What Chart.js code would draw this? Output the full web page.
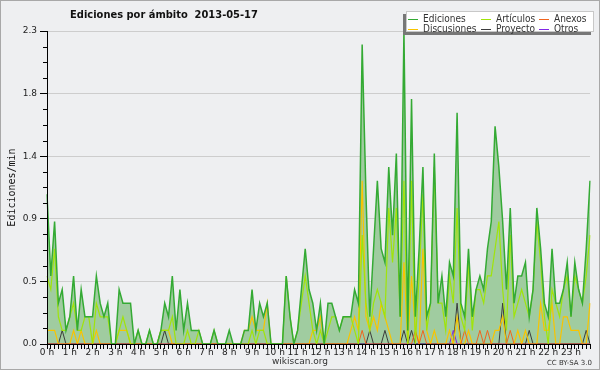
<!DOCTYPE html>
<html>
<head>
<meta charset="utf-8">
<script src="https://cdn.jsdelivr.net/npm/chart.js"></script>
<style>
html, body { margin: 0; padding: 0; background: #eeeff1; }
canvas { display: block; }
</style>
</head>
<body>
<canvas id="myChart" width="600" height="370"></canvas>
<script>
// one value every 10 minutes, 6 per hour, 144 per day (ediciones / min)
var hourLabels = ['0 h','1 h','2 h','3 h','4 h','5 h','6 h','7 h','8 h','9 h','10 h','11 h',
                  '12 h','13 h','14 h','15 h','16 h','17 h','18 h','19 h','20 h','21 h','22 h','23 h'];
var yTicks = [0, 0.46, 0.92, 1.38, 1.84, 2.3];

var ediciones = [
  1.1,0.5,0.9,0.3,0.4,0.1,  0.2,0.5,0.1,0.4,0.2,0.2,  0.2,0.5,0.3,0.2,0.3,0,  0,0.4,0.3,0.3,0.3,0,
  0.1,0,0,0.1,0,0,  0.1,0.3,0.2,0.5,0.1,0.4,  0.1,0.3,0.1,0.1,0.1,0,  0,0,0.1,0,0,0,
  0.1,0,0,0,0.1,0.1,  0.4,0.1,0.3,0.2,0.3,0,  0,0,0,0.5,0.2,0,  0.1,0.4,0.7,0.4,0.3,0.1,
  0.3,0,0.3,0.3,0.2,0.1,  0.2,0.2,0.2,0.4,0.3,2.2,  1.1,0.2,0.7,1.2,0.7,0.6,  1.3,0.8,1.4,0.2,2.3,0.1,
  1.8,0.2,0.7,1.3,0.2,0.3,  1.4,0.3,0.5,0.2,0.6,0.5,  1.7,0.3,0.2,0.7,0.2,0.4,  0.5,0.4,0.7,0.9,1.6,1.3,
  0.9,0.4,1.0,0.3,0.5,0.5,  0.6,0.2,0.4,1.0,0.7,0.3,  0.2,0.7,0.3,0.3,0.4,0.6,  0.2,0.6,0.4,0.3,0.7,1.2
];
var articulos = [
  0.5,0.4,0.7,0.2,0.1,0.1,  0.2,0.3,0.1,0.1,0.2,0.2,  0,0.3,0.2,0.2,0.2,0,  0,0.1,0.2,0.1,0,0,
  0.1,0,0,0.1,0,0,  0.1,0.1,0.1,0.2,0,0,  0,0.1,0,0,0.1,0,  0,0,0.1,0,0,0,
  0,0,0,0,0,0,  0.1,0,0.1,0.1,0,0,  0,0,0,0.5,0.2,0,  0.1,0.3,0.5,0.3,0.1,0,
  0.1,0,0.1,0.2,0.2,0.1,  0.2,0.2,0.2,0.1,0,0.8,  0.3,0.1,0.3,0.4,0.3,0.2,  1.0,0.6,1.0,0.2,1.2,0,
  1.2,0,0.5,1.1,0.1,0.3,  1.3,0.3,0.3,0.1,0.5,0.3,  1.0,0.2,0.1,0.6,0.1,0.4,  0.4,0.3,0.5,0.5,0.7,0.9,
  0.4,0.1,0.8,0.2,0.3,0.4,  0.3,0.2,0.4,0.9,0.6,0.2,  0,0.4,0.3,0.2,0.4,0.5,  0.2,0.5,0.4,0.3,0.5,0.8
];
var anexos = [
  0,0,0,0,0,0,  0,0,0,0,0,0,  0,0,0,0,0,0,  0,0,0,0,0,0,
  0,0,0,0,0,0,  0,0,0,0,0,0,  0,0,0,0,0,0,  0,0,0,0,0,0,
  0,0,0,0,0,0,  0,0,0,0,0,0,  0,0,0,0,0,0,  0,0,0,0,0,0,
  0,0,0,0,0,0,  0,0,0,0,0,0.1,  0,0,0,0,0,0,  0,0,0,0,0,0,
  0,0.1,0,0.1,0,0,  0,0,0,0,0,0,  0,0,0.1,0,0,0,  0.1,0,0.1,0,0,0,
  0,0,0.1,0,0,0,  0,0,0,0,0,0,  0,0,0,0,0,0,  0,0,0,0,0,0
];
var discusiones = [
  0.1,0.1,0.1,0,0,0,  0,0.1,0,0.1,0,0,  0,0.1,0,0,0,0,  0,0.1,0.1,0.1,0,0,
  0,0,0,0,0,0,  0.1,0.1,0.1,0,0,0,  0,0,0,0,0,0,  0,0,0,0,0,0,
  0,0,0,0,0.1,0.1,  0.2,0.1,0.1,0.1,0.3,0,  0,0,0,0,0,0,  0,0,0,0,0.1,0.1,
  0.2,0,0,0,0,0,  0,0,0.1,0.2,0.1,1.2,  0.2,0.1,0.2,0.1,0.3,0.2,  0.1,0,0,0,0.6,0,
  0.5,0.1,0,0.7,0.1,0,  0.1,0,0,0,0.1,0,  0.2,0,0,0.1,0,0,  0,0,0,0,0.1,0.1,
  0.2,0,0,0,0.1,0,  0.1,0,0,0,0.3,0.1,  0.1,0.3,0,0,0.2,0.2,  0.1,0.1,0.1,0,0,0.3
];
var proyecto = [
  0,0,0,0,0.1,0,  0,0,0,0,0,0,  0,0,0,0,0,0,  0,0,0,0,0,0,
  0,0,0,0,0,0,  0,0.1,0,0,0,0,  0,0,0,0,0,0,  0,0,0,0,0,0,
  0,0,0,0,0,0,  0,0,0,0,0,0,  0,0,0,0,0,0,  0,0,0,0,0,0,
  0,0,0,0,0,0,  0,0,0,0,0,0,  0,0.1,0,0,0,0.1,  0,0,0,0,0.1,0,
  0.1,0,0,0,0,0,  0,0,0,0,0,0,  0.3,0,0,0,0,0,  0,0,0,0,0,0,
  0.3,0,0,0,0,0,  0,0.1,0,0,0,0,  0,0,0,0,0,0,  0,0,0,0,0.1,0
];
var otros = [
  0,0,0,0,0,0,  0,0,0,0,0,0,  0,0,0,0,0,0,  0,0,0,0,0,0,
  0,0,0,0,0,0,  0,0,0,0,0,0,  0,0,0,0,0,0,  0,0,0,0,0,0,
  0,0,0,0,0,0,  0,0,0,0,0,0,  0,0,0,0,0,0,  0,0,0,0,0,0,
  0,0,0,0,0,0,  0,0,0,0,0,0,  0,0,0,0,0,0,  0,0,0,0,0,0,
  0,0,0,0,0,0,  0,0,0,0,0,0.1,  0,0,0,0,0,0,  0,0,0,0,0,0,
  0,0,0,0,0,0,  0,0,0,0,0,0,  0,0,0,0,0,0,  0,0,0,0,0,0
];

var chartTitle = 'Ediciones por ámbito  2013-05-17';
var yTitle = 'Ediciones/min';

var xLabels = ediciones.map(function(v, i) {
   return i % 6 === 0 ? hourLabels[i / 6] : '';
});

var decor = {
   id: 'decor',
   beforeDraw: function(chart) {
      var c = chart.ctx;
      c.save();
      c.fillStyle = '#eeeff1';
      c.fillRect(0, 0, chart.width, chart.height);
      c.restore();
   },
   afterDatasetsDraw: function(chart) {
      var a = chart.chartArea, c = chart.ctx;
      c.save();
      c.strokeStyle = '#000';
      c.lineWidth = 1;
      c.beginPath();
      c.moveTo(Math.round(a.left) + 0.5, a.top);
      c.lineTo(Math.round(a.left) + 0.5, Math.round(a.bottom) + 0.5);
      c.lineTo(a.right, Math.round(a.bottom) + 0.5);
      c.stroke();
      c.restore();
   },
   afterDraw: function(chart) {
      var c = chart.ctx, a = chart.chartArea, y = chart.scales.y;
      c.save();
      // minor ticks on the value axis
      c.strokeStyle = '#000';
      c.lineWidth = 1;
      for (var k = 1; k < 20; k++) {
         if (k % 4 === 0) continue;
         var py = Math.round(y.getPixelForValue(k * 0.115)) + 0.5;
         c.beginPath();
         c.moveTo(a.left - 4, py);
         c.lineTo(a.left, py);
         c.stroke();
      }
      // frame
      c.strokeStyle = '#a8a8a8';
      c.strokeRect(0.5, 0.5, chart.width - 1, chart.height - 1);

      // title
      c.fillStyle = '#111';
      c.font = 'bold 11px "DejaVu Sans Condensed"';
      c.textAlign = 'center';
      c.textBaseline = 'alphabetic';
      c.fillText(chartTitle, 164, 18);

      // axis title
      c.save();
      c.translate(12, (a.top + a.bottom) / 2);
      c.rotate(-Math.PI / 2);
      c.font = '10px "DejaVu Sans Mono"';
      c.fillStyle = '#111';
      c.textAlign = 'center';
      c.textBaseline = 'middle';
      c.fillText(yTitle, 0, 0);
      c.restore();

      // footer
      c.fillStyle = '#333';
      c.font = '9px "DejaVu Sans"';
      c.textAlign = 'center';
      c.fillText('wikiscan.org', 300, 364);
      c.font = '7px "DejaVu Sans"';
      c.textAlign = 'right';
      c.fillText('CC BY-SA 3.0', 592, 365);

      // legend box with shadow
      c.fillStyle = '#777';
      c.fillRect(403, 14, 188, 21);
      c.fillStyle = '#fff';
      c.fillRect(406, 11, 188, 21);
      c.strokeStyle = '#c8c8c8';
      c.strokeRect(406.5, 11.5, 187, 20);
      var colX = [408, 481, 539];
      var rowY = [19, 29];
      c.font = '10px "DejaVu Sans Condensed"';
      c.textAlign = 'left';
      c.textBaseline = 'middle';
      chart.data.datasets.forEach(function(ds, i) {
         var lx = colX[i % 3], ly = rowY[Math.floor(i / 3)];
         c.strokeStyle = ds.borderColor;
         c.lineWidth = 1;
         c.beginPath();
         c.moveTo(lx, ly + 0.5);
         c.lineTo(lx + 10, ly + 0.5);
         c.stroke();
         c.fillStyle = '#333';
         c.fillText(ds.label, lx + 15, ly);
      });
      c.restore();
   }
};

var ctx = document.getElementById('myChart').getContext('2d');
var chart = new Chart(ctx, {
   type: 'line',
   data: {
      labels: xLabels,
      datasets: [{
         label: 'Ediciones',
         data: ediciones,
         borderColor: 'rgb(52,170,52)',
         backgroundColor: 'rgb(160,204,160)',
         borderWidth: 1.5,
         fill: 'origin'
      }, {
         label: 'Artículos',
         data: articulos,
         borderColor: 'rgb(160,228,10)',
         borderWidth: 1.2,
         fill: false
      }, {
         label: 'Anexos',
         data: anexos,
         borderColor: 'rgb(240,100,30)',
         borderWidth: 1,
         fill: false
      }, {
         label: 'Discusiones',
         data: discusiones,
         borderColor: 'rgb(248,196,0)',
         borderWidth: 1.2,
         fill: false
      }, {
         label: 'Proyecto',
         data: proyecto,
         borderColor: 'rgb(60,60,60)',
         borderWidth: 1,
         fill: false
      }, {
         label: 'Otros',
         data: otros,
         borderColor: 'rgb(130,40,230)',
         borderWidth: 1,
         fill: false
      }]
   },
   options: {
      responsive: false,
      animation: false,
      layout: { padding: { left: 0, right: 10, top: 31, bottom: 0 } },
      elements: { point: { radius: 0 }, line: { tension: 0 } },
      plugins: {
         legend: { display: false },
         title: { display: false },
         tooltip: { enabled: false },
         filler: { drawTime: 'beforeDatasetsDraw' }
      },
      scales: {
         x: {
            offset: false,
            ticks: {
               autoSkip: false,
               maxRotation: 0,
               padding: -2,
               color: '#222',
               font: { family: 'DejaVu Sans', size: 9 }
            },
            grid: { drawOnChartArea: false, tickLength: 5, tickColor: '#000' },
            border: { color: '#000' },
            afterFit: function(s) { s.height = 26; }
         },
         y: {
            min: 0,
            max: 2.3,
            afterBuildTicks: function(s) {
               s.ticks = yTicks.map(function(v) { return { value: v }; });
            },
            ticks: {
               padding: 3,
               color: '#222',
               font: { family: 'DejaVu Sans', size: 9 },
               callback: function(v) { return v.toFixed(1); }
            },
            grid: { color: '#cdcdcd', tickLength: 7, tickColor: '#000' },
            border: { color: '#000' },
            afterFit: function(s) { s.width = 47; }
         }
      }
   },
   plugins: [decor]
});
</script>
</body>
</html>
